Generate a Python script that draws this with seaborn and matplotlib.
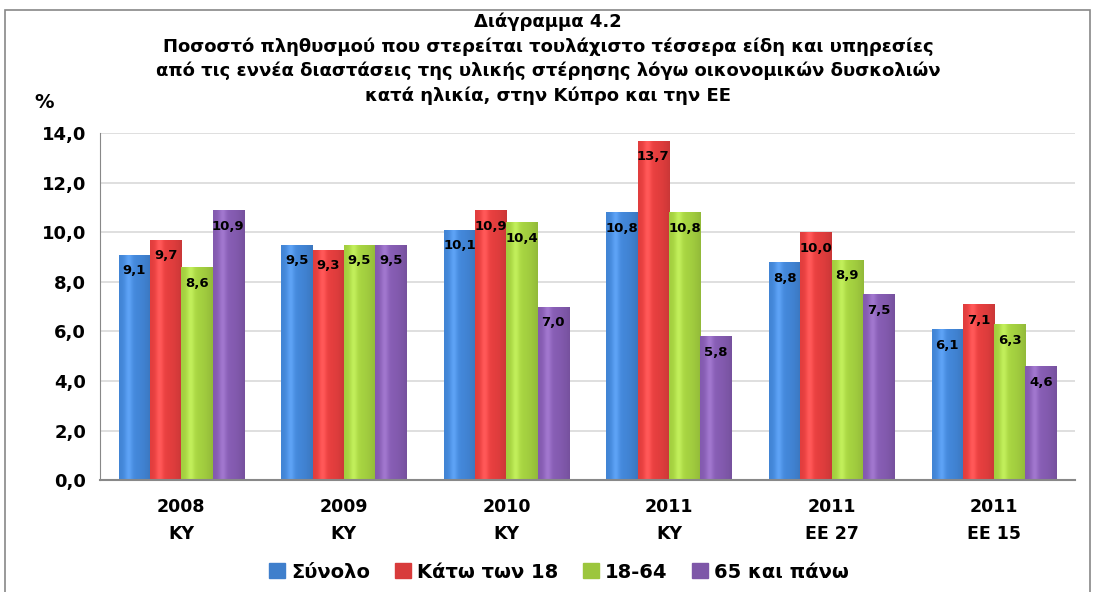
import numpy as np
import pandas as pd
import matplotlib
matplotlib.use("Agg")
import matplotlib.pyplot as plt
from matplotlib.patches import Rectangle
from matplotlib.colors import to_rgb
import seaborn as sns

# data
categories = ["2008\nΚΥ", "2009\nΚΥ", "2010\nΚΥ", "2011\nΚΥ", "2011\nΕΕ 27", "2011\nΕΕ 15"]
groups = ["Σύνολο", "Κάτω των 18", "18-64", "65 και πάνω"]
total = [9.1, 9.5, 10.1, 10.8, 8.8, 6.1]
under18 = [9.7, 9.3, 10.9, 13.7, 10.0, 7.1]
age18_64 = [8.6, 9.5, 10.4, 10.8, 8.9, 6.3]
over65 = [10.9, 9.5, 7.0, 5.8, 7.5, 4.6]
colors = ["#3f7fcc", "#d83b3b", "#9cc63d", "#7e57a8"]

rows = []
for g, vals in zip(groups, [total, under18, age18_64, over65]):
    for c, v in zip(categories, vals):
        rows.append({"cat": c, "grp": g, "val": v})
df = pd.DataFrame(rows)

sns.set_style("white")
plt.rcParams["font.family"] = ["DejaVu Sans"]
plt.rcParams["text.color"] = "black"
plt.rcParams["xtick.color"] = "black"
plt.rcParams["ytick.color"] = "black"

fig = plt.figure(figsize=(10.96, 5.92), dpi=100)
ax = fig.add_axes([0.0912, 0.189, 0.890, 0.586])

sns.barplot(data=df, x="cat", y="val", hue="grp", palette=colors,
            width=0.77, dodge=True, ax=ax, legend=False, errorbar=None,
            saturation=1, linewidth=0)

# cylinder-like gradient on each bar
for p in ax.patches:
    base = np.array(to_rgb(p.get_facecolor()))
    t = np.linspace(0, 1, 64)
    shade = 1 - 0.9 * (t - 0.35) ** 2
    light = np.clip(base[None, :] * (0.7 + 0.38 * shade[:, None])
                    + 0.1 * np.exp(-((t - 0.3) / 0.12) ** 2)[:, None], 0, 1)
    x0, y0 = p.get_x(), p.get_y()
    w, h = p.get_width(), p.get_height()
    im = ax.imshow(light[None, :, :], extent=[x0, x0 + w, y0, y0 + h], aspect="auto",
                   zorder=p.get_zorder() + 0.1, interpolation="bilinear")
    im.set_clip_path(p)

ax.set_xlim(-0.5, len(categories) - 0.5)
ax.set_ylim(0, 14)
ax.set_yticks(np.arange(0, 15, 2))
ax.set_yticklabels([f"{v:.1f}".replace(".", ",") for v in np.arange(0, 15, 2)],
                   fontsize=13, fontweight="bold")
ax.set_xticks(range(len(categories)))
ax.set_xticklabels(categories, fontsize=12.5, fontweight="bold", linespacing=1.6)
ax.tick_params(axis="x", length=0, pad=13)
ax.tick_params(axis="y", length=0, pad=10)
ax.set_xlabel("")
ax.set_ylabel("")
ax.grid(axis="y", color="#d9d9d9", linewidth=1.2)
ax.set_axisbelow(True)
for s in ["top", "right"]:
    ax.spines[s].set_visible(False)
ax.spines["left"].set_color("#888888")
ax.spines["bottom"].set_color("#888888")
ax.spines["bottom"].set_linewidth(1.5)

# value labels
for cont, vals in zip(ax.containers, [total, under18, age18_64, over65]):
    for bar, v in zip(cont, vals):
        ax.text(bar.get_x() + bar.get_width() / 2, v - 0.65,
                f"{v:.1f}".replace(".", ","), ha="center", va="center",
                fontsize=9.5, fontweight="bold", color="black", zorder=10)

# title
title_lines = ["Διάγραμμα 4.2",
               "Ποσοστό πληθυσμού που στερείται τουλάχιστο τέσσερα είδη και υπηρεσίες",
               "από τις εννέα διαστάσεις της υλικής στέρησης λόγω οικονομικών δυσκολιών",
               "κατά ηλικία, στην Κύπρο και την ΕΕ"]
for i, line in enumerate(title_lines):
    fig.text(0.5, 1 - (22 + 24.5 * i) / 592, line, ha="center", va="center",
             fontsize=13, fontweight="bold")
fig.text(0.04, 1 - 103 / 592, "%", ha="center", va="center", fontsize=14, fontweight="bold")

# legend
handles = [Rectangle((0, 0), 1, 1, color=c) for c in colors]
fig.legend(handles, groups, loc="center", bbox_to_anchor=(0.51, 1 - 572 / 592), ncol=4,
           frameon=False, handlelength=0.8, handleheight=0.8, handletextpad=0.3,
           columnspacing=1.3, prop={"size": 14, "weight": "bold"})

# outer frame
fig.patches.append(Rectangle((0.0045, -0.02), 0.99, 1.003, transform=fig.transFigure,
                             fill=False, edgecolor="#888888", linewidth=1.2))

fig.savefig("out.png", dpi=100)
